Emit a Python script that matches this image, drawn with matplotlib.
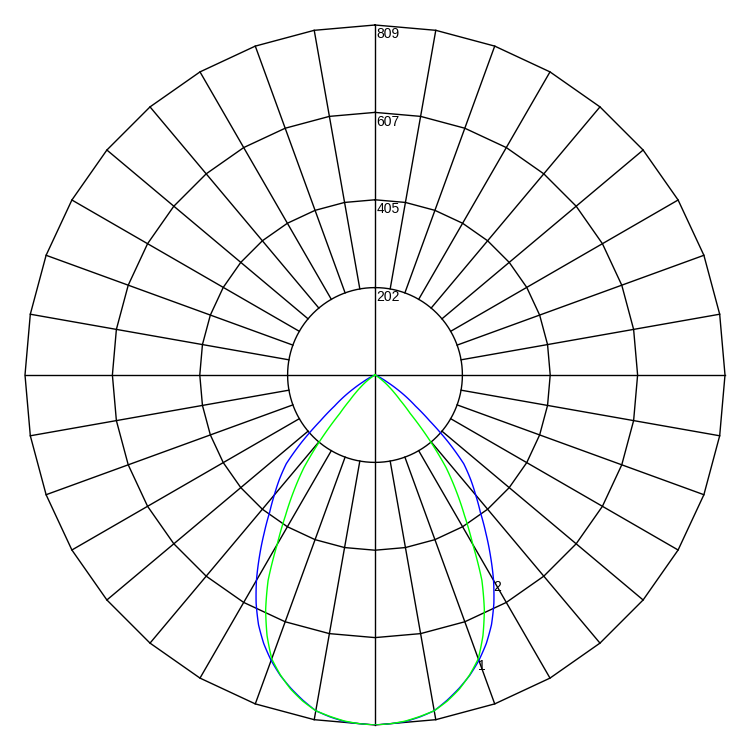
import numpy as np
import matplotlib.pyplot as plt

plt.rcParams['font.family'] = ['Liberation Sans', 'DejaVu Sans']

# polar intensity diagram, angles measured from nadir (downwards)
ring_values = [202, 405, 607, 809]
angles = [0, 2.5, 5, 7.5, 10, 12.5, 15, 17.5, 20, 22.5, 25, 27.5, 30, 32.5, 35, 37.5,
          40, 42.5, 45, 47.5, 50, 52.5, 55, 57.5, 60, 62.5, 65, 67.5, 70, 75, 80, 85, 90]
curve_1 = [809, 807, 803, 796, 788, 772, 752, 727, 698, 652, 598, 535, 452, 385, 327, 270,
           195, 120, 82, 60, 42, 28, 15, 6, 0, 0, 0, 0, 0, 0, 0, 0, 0]
curve_2 = [809, 807, 804, 797, 788, 770, 750, 728, 702, 672, 637, 595, 548, 497, 447, 400,
           362, 327, 290, 230, 165, 118, 88, 58, 32, 18, 8, 3, 0, 0, 0, 0, 0]
curve_names = ['1', '2']
label_angles = [20, 30]
curve_colors = ['#00ff00', '#0000ff']

fig = plt.figure(figsize=(7.5, 7.5), dpi=100)
ax = fig.add_axes([0, 0, 1, 1])
rmax = ring_values[-1]
px = rmax / 350.0
half = 375 * px
ax.set_xlim(-half, half)
ax.set_ylim(-half, half)
ax.set_aspect('equal')
ax.axis('off')

# rings: inner one round, others as 10 degree polygons
t = np.linspace(0, 2 * np.pi, 721)
ax.plot(ring_values[0] * np.sin(t), ring_values[0] * np.cos(t), color='black', lw=1.0)
tp = np.radians(np.arange(0, 361, 10))
for r in ring_values[1:]:
    ax.plot(r * np.sin(tp), r * np.cos(tp), color='black', lw=1.0)

# spokes
for a in range(0, 360, 10):
    s, c = np.sin(np.radians(a)), np.cos(np.radians(a))
    if a % 90 == 0:
        ax.plot([0, rmax * s], [0, rmax * c], color='black', lw=1.0)
    else:
        r0 = ring_values[0]
        ax.plot([r0 * s, rmax * s], [r0 * c, rmax * c], color='black', lw=1.0)

for r in ring_values:
    ax.text(1.5 * px, r - 2.5 * px, str(r), ha='left', va='top', fontsize=10, color='black')

# curves on a polar axes laid over the grid (same centre and radius)
pax = fig.add_axes([25 / 750, 25 / 750, 700 / 750, 700 / 750], projection='polar')
pax.set_theta_zero_location('S')
pax.set_theta_direction(1)
pax.set_ylim(0, rmax)
pax.set_axis_off()
pax.patch.set_alpha(0)

th = np.radians(angles)
th_full = np.concatenate([-th[::-1], th[1:]])
for vals, name, la, col in zip([curve_2, curve_1], curve_names[::-1], label_angles[::-1], curve_colors[::-1]):
    v = np.array(vals, dtype=float)
    r_full = np.concatenate([v[::-1], v[1:]])
    line, = pax.plot(th_full, r_full, color=col, lw=1.0)
    # let the polar transform bend the segments between readings
    line.get_path()._interpolation_steps = 25
    rl = v[angles.index(la)]
    pax.text(np.radians(la), rl, name, ha='left', va='top', fontsize=10, color='black')

fig.savefig('out.png', dpi=100)
